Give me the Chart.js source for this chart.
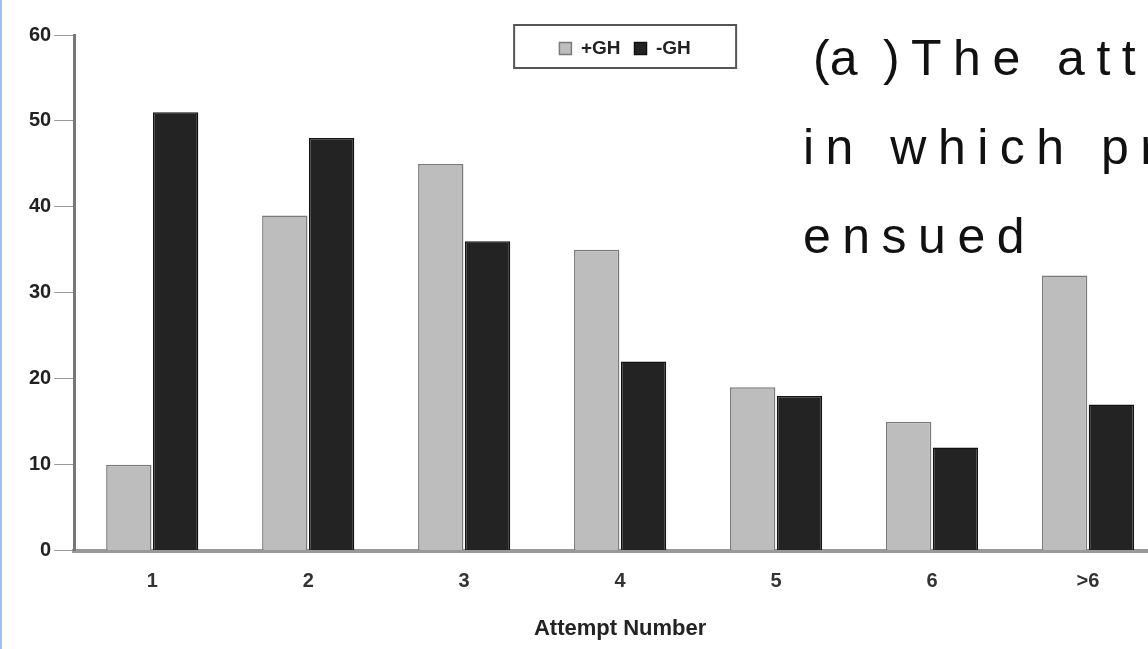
<!DOCTYPE html>
<html>
<head>
<meta charset="utf-8">
<script src="https://cdn.jsdelivr.net/npm/chart.js@4.4.0/dist/chart.umd.min.js"></script>
<style>
  html, body { margin: 0; padding: 0; background: #fff; overflow: hidden; }
  body { width: 1148px; height: 649px; position: relative; border-left: 2px solid #9cc3f0; box-sizing: border-box; }
  #wrap { position: absolute; left: -2px; top: 0; width: 1172px; height: 649px; }
  #caption {
    position: absolute; left: 801px; top: 14px; width: 700px;
    font-family: "Liberation Sans", Arial, sans-serif; font-size: 50px;
    letter-spacing: 11.5px; line-height: 89px; color: #111; white-space: pre;
  }
  #caption span { letter-spacing: 0; }
</style>
</head>
<body>
<div id="wrap"><canvas id="chart"></canvas></div>
<div id="caption"><span>&#8201;(</span>a<span> </span>)The attempt
in which pregnancy
ensued</div>
<script>
// attempt categories and percentages
const attempts = ['1', '2', '3', '4', '5', '6', '>6'];
const withGH = [10, 39, 45, 35, 19, 15, 32];
const withoutGH = [51, 48, 36, 22, 18, 12, 17];
const yTicks = [0, 10, 20, 30, 40, 50, 60];

// legend sits inside the plot, near the top, with a frame round it
const floatingLegend = {
    id: 'floatingLegend',
    beforeLayout(chart) {
        const l = chart.legend;
        if (!l || l._floatPatched) return;
        const fit = l.fit.bind(l);
        l.fit = function () {
            fit();
            this._realHeight = this.height;
            this.height = 0;
        };
        l._floatPatched = true;
    },
    afterLayout(chart) {
        const l = chart.legend;
        if (!l) return;
        const w = 222;
        const cx = (chart.chartArea.left + chart.chartArea.right) / 2 + 5;
        l.left = cx - w / 2;
        l.right = cx + w / 2;
        l.width = w;
        l.top = chart.chartArea.top - 10;
        l.height = l._realHeight || 50;
        l.bottom = l.top + l.height;
    },
    afterDraw(chart) {
        const l = chart.legend;
        if (!l) return;
        const ctx = chart.ctx;
        ctx.save();
        ctx.strokeStyle = '#555';
        ctx.lineWidth = 2;
        ctx.strokeRect(l.left, l.top, l.width, l.height);
        ctx.restore();
    }
};

new Chart(document.getElementById('chart'), {
    type: 'bar',
    data: {
        labels: attempts,
        datasets: [{
            label: '+GH',
            data: withGH,
            backgroundColor: '#bdbdbd',
            borderColor: '#7a7a7a',
            borderWidth: 1.5
        }, {
            label: '-GH',
            data: withoutGH,
            backgroundColor: '#232323',
            borderColor: '#111',
            borderWidth: 1.5
        }]
    },
    options: {
        responsive: true,
        maintainAspectRatio: false,
        animation: false,
        layout: { padding: { left: 26, top: 35, right: 6, bottom: 3 } },
        datasets: { bar: { categoryPercentage: 0.6, barPercentage: 0.97 } },
        plugins: {
            legend: {
                position: 'top',
                align: 'center',
                labels: {
                    boxWidth: 12, boxHeight: 12, padding: 14,
                    color: '#222',
                    font: { family: 'Liberation Sans', size: 19, weight: 'bold' }
                }
            },
            tooltip: { enabled: false }
        },
        scales: {
            x: {
                grid: { display: false, drawTicks: false },
                border: { color: '#999', width: 4 },
                ticks: { color: '#333', padding: 19, font: { family: 'Liberation Sans', size: 20, weight: 'bold' } },
                title: {
                    display: true, text: 'Attempt Number', color: '#222', padding: { top: 3 },
                    font: { family: 'Liberation Sans', size: 22, weight: 'bold' }
                }
            },
            y: {
                min: 0, max: 60,
                afterBuildTicks(axis) { axis.ticks = yTicks.map(v => ({ value: v })); },
                grid: { drawOnChartArea: false, tickLength: 20, color: '#999' },
                border: { color: '#777', width: 3 },
                ticks: { color: '#222', padding: 3, font: { family: 'Liberation Sans', size: 20, weight: 'bold' } }
            }
        }
    },
    plugins: [floatingLegend]
});
</script>
</body>
</html>
